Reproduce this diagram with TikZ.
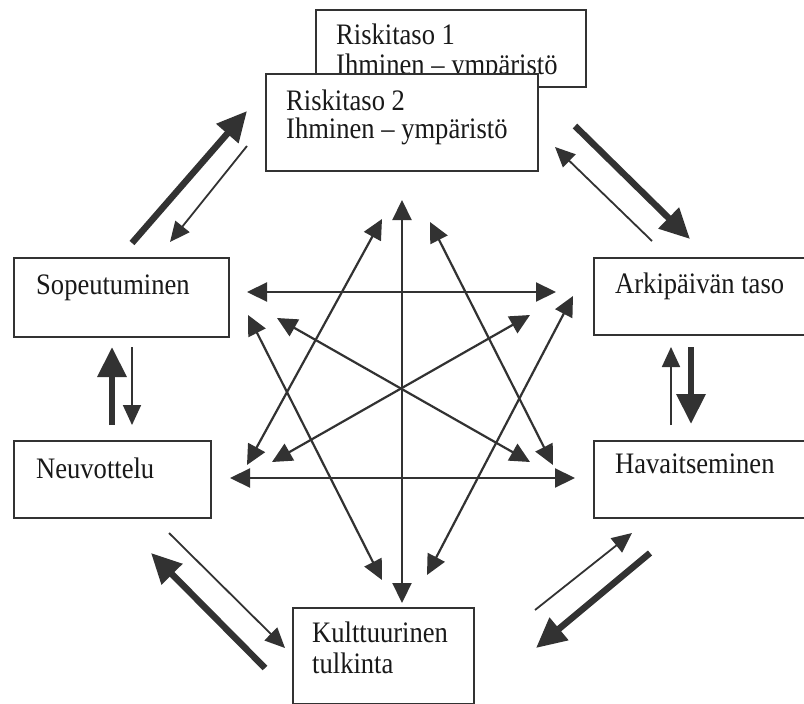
\documentclass[tikz,border=0pt]{standalone}
\usepackage{fontspec}
\setmainfont{Liberation Serif}
\usetikzlibrary{arrows.meta}
\definecolor{dk}{RGB}{50,50,50}
\newcommand\stretchtxt[1]{\scalebox{1.01}[1.13]{#1}}
\begin{document}
\begin{tikzpicture}[x=1pt,y=-1pt,
 box/.style={draw=dk, line width=2.3pt, fill=white, inner sep=0pt, anchor=north west},
 txt/.style={font=\fontsize{26.3}{29}\selectfont, anchor=base west, inner sep=0pt, text=black!90},
 star/.style={draw=dk, line width=2.2pt, {Triangle[length=20pt,width=19pt]}-{Triangle[length=20pt,width=19pt]}},
 thinarr/.style={draw=dk, line width=1.8pt, -{Triangle[length=20pt,width=18pt]}},
 thickarr/.style={draw=dk, line width=6.5pt, -{Triangle[length=30pt,width=28pt]}},
]
\useasboundingbox (0,0) rectangle (804,704);
\fill[white] (0,0) rectangle (804,704);

% boxes
\node[box, minimum width=270pt, minimum height=77pt] (r1) at (315,9) {};
\node[txt] (r1a) at (336,45) {\stretchtxt{Riskitaso 1}};
\node[txt] (r1b) at (336,74) {\stretchtxt{Ihminen -- ympäristö}};
\node[box, minimum width=272pt, minimum height=97pt] (r2) at (265,73) {};
\node[txt] (r2a) at (286,110) {\stretchtxt{Riskitaso 2}};
\node[txt] (r2b) at (286,138) {\stretchtxt{Ihminen -- ympäristö}};

\node[box, minimum width=215pt, minimum height=79pt] (sop) at (13,257) {};
\node[txt] (sopt) at (36,294) {\stretchtxt{Sopeutuminen}};
\node[box, minimum width=197pt, minimum height=77pt] (neu) at (13,440) {};
\node[txt] (neut) at (36,478) {\stretchtxt{Neuvottelu}};
\node[box, minimum width=237pt, minimum height=77pt] (ark) at (593,257) {};
\node[txt] (arkt) at (615,293) {\stretchtxt{Arkipäivän taso}};
\node[box, minimum width=237pt, minimum height=77pt] (hav) at (593,440) {};
\node[txt] (havt) at (615,473) {\stretchtxt{Havaitseminen}};
\node[box, minimum width=181pt, minimum height=96pt] (kul) at (292,607) {};
\node[txt] (kula) at (312,642) {\stretchtxt{Kulttuurinen}};
\node[txt] (kulb) at (312,673) {\stretchtxt{tulkinta}};

% star coordinates
\coordinate (vt) at (402,200);
\coordinate (vb) at (402,603);
\coordinate (h1l) at (247,292);
\coordinate (h1r) at (556,292);
\coordinate (h2l) at (230,478);
\coordinate (h2r) at (575,478);
\coordinate (a1) at (382,219);
\coordinate (a2) at (247,465);
\coordinate (b1) at (430,222);
\coordinate (b2) at (553,465);
\coordinate (c1) at (248,315);
\coordinate (c2) at (382,580);
\coordinate (d1) at (573,296);
\coordinate (d2) at (427,575);
\coordinate (e1) at (277,318);
\coordinate (e2) at (530,462);
\coordinate (f1) at (530,315);
\coordinate (f2) at (272,462);

\draw[star] (vt) -- (vb);
\draw[star] (h1l) -- (h1r);
\draw[star] (h2l) -- (h2r);
\draw[star] (a1) -- (a2);
\draw[star] (b1) -- (b2);
\draw[star] (c1) -- (c2);
\draw[star] (d1) -- (d2);
\draw[star] (e1) -- (e2);
\draw[star] (f1) -- (f2);

% outer arrows
\coordinate (o1s) at (132,243); \coordinate (o1e) at (247,111);
\coordinate (o2s) at (247,146); \coordinate (o2e) at (170,242);
\draw[thickarr] (o1s) -- (o1e);
\draw[thinarr] (o2s) -- (o2e);

\coordinate (o3s) at (575,126); \coordinate (o3e) at (690,239);
\coordinate (o4s) at (652,241); \coordinate (o4e) at (555,147);
\draw[thickarr] (o3s) -- (o3e);
\draw[thinarr] (o4s) -- (o4e);

\coordinate (o5s) at (671,425); \coordinate (o5e) at (671,347);
\coordinate (o6s) at (691,347); \coordinate (o6e) at (691,424);
\draw[thinarr] (o5s) -- (o5e);
\draw[thickarr] (o6s) -- (o6e);

\coordinate (o7s) at (535,610); \coordinate (o7e) at (632,533);
\coordinate (o8s) at (650,553); \coordinate (o8e) at (536,648);
\draw[thinarr] (o7s) -- (o7e);
\draw[thickarr] (o8s) -- (o8e);

\coordinate (o9s) at (169,533); \coordinate (o9e) at (285,648);
\coordinate (o10s) at (265,668); \coordinate (o10e) at (151,553);
\draw[thinarr] (o9s) -- (o9e);
\draw[thickarr] (o10s) -- (o10e);

\coordinate (o11s) at (112,425); \coordinate (o11e) at (112,347);
\coordinate (o12s) at (132,347); \coordinate (o12e) at (132,425);
\draw[thickarr] (o11s) -- (o11e);
\draw[thinarr] (o12s) -- (o12e);
\end{tikzpicture}
\end{document}
